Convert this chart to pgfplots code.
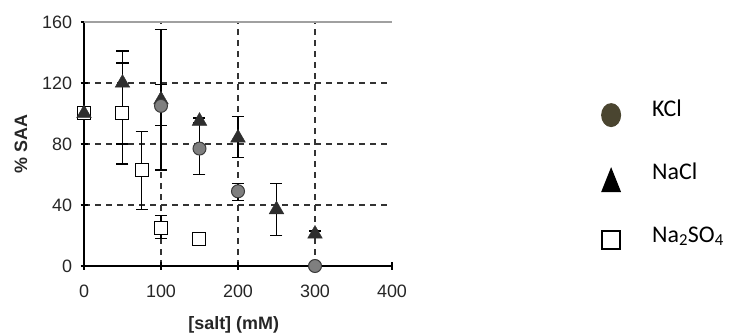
\documentclass[border=0pt]{standalone}
\usepackage{pgfplots}
\pgfplotsset{compat=1.18}
\usepackage{fontspec}
\setmainfont{Liberation Sans}
\newfontfamily\carlito{Carlito}
\definecolor{gridc}{HTML}{333333}
\definecolor{kclfill}{HTML}{7F7F7F}
\definecolor{kcledge}{HTML}{3A3A3A}
\definecolor{naclfill}{HTML}{2E2E2E}
\definecolor{legkcl}{HTML}{4A4530}
\definecolor{topline}{HTML}{A0A0A0}
\begin{document}
\begin{tikzpicture}
\path[use as bounding box] (0,0) rectangle (731bp,336bp);
\begin{axis}[
  at={(84bp,70bp)}, anchor=south west,
  scale only axis, width=308bp, height=244bp,
  xmin=0, xmax=400, ymin=0, ymax=160,
  axis lines*=left,
  axis line style={black, line width=1.3bp},
  xtick={100,200,300}, extra x ticks={0,400},
  ytick={40,80,120}, extra y ticks={0,160},
  extra x tick style={grid=none}, extra y tick style={grid=none},
  grid=major,
  major grid style={gridc, line width=1.3bp, dash pattern=on 6bp off 5bp},
  tick align=center, major tick length=7bp,
  tick style={black, line width=1.2bp},
  /pgf/number format/assume math mode=true,
  ticklabel style={font=\fontsize{18}{20}\selectfont, text=black!85},
  xticklabel style={yshift=-12bp},
  yticklabel style={xshift=-5bp},
  xlabel={\bfseries [salt] (mM)},
  ylabel={\bfseries \% SAA},
  label style={font=\fontsize{18}{20}\selectfont, text=black!85},
  xlabel style={at={(0.486,0)}, anchor=center, yshift=-59bp},
  ylabel style={at={(0,0.5)}, anchor=center, xshift=0bp, yshift=63bp},
  error bars/error bar style={black, line width=1.4bp},
  error bars/error mark options={rotate=90, mark size=6bp, black, line width=1.4bp},
  clip=false,
  legend style={at={(1.679,0.768)}, anchor=north west, draw=none, fill=none,
    inner sep=0pt, outer sep=0pt,
    font=\fontsize{24}{26}\selectfont\carlito, row sep=0pt, column sep=0pt,
    nodes={text height=16bp, text depth=4bp, inner sep=0pt, minimum height=63bp}},
  legend cell align=left,
]
\draw[topline, line width=1.2bp] (axis cs:0,160) -- (axis cs:400,160);
% Na2SO4
\addplot[forget plot, only marks, mark=square*, mark size=6.5bp, mark options={fill=white, draw=black, line width=1bp},
  error bars/.cd, y dir=both, y explicit] coordinates {
  (0,100)
  (50,100) +- (0,33)
  (75,63) += (0,25) -= (0,26)
  (100,25) += (0,8) -= (0,7)
  (150,18)
};
% NaCl
\addplot[forget plot, only marks, mark=triangle*, mark size=8.5bp, mark options={fill=naclfill, draw=naclfill},
  error bars/.cd, y dir=both, y explicit] coordinates {
  (0,100)
  (50,120) += (0,21) -= (0,40)
  (100,109) +- (0,46)
  (150,95) +- (0,2)
  (200,84) += (0,14) -= (0,13)
  (250,37) += (0,17) -= (0,17)
  (300,21) +- (0,2)
};
% KCl
\addplot[forget plot, only marks, mark=*, mark size=6.5bp, mark options={fill=kclfill, draw=kcledge, line width=1bp},
  error bars/.cd, y dir=both, y explicit] coordinates {
  (100,105) += (0,14) -= (0,13)
  (150,77) +- (0,17)
  (200,49) += (0,5) -= (0,6)
  (300,0)
};
\addlegendimage{legend image code/.code={\path[draw=none, fill=none] (0,0) -- (51bp,0); \fill[legkcl, draw=none] (10bp,-5bp) ellipse [x radius=10bp, y radius=12bp];}}
\addlegendentry{KCl}
\addlegendimage{legend image code/.code={\path[draw=none, fill=none] (0,0) -- (51bp,0); \fill[black, draw=none] (0bp,-19bp) -- ++(20bp,0) -- ++(-10bp,25bp) -- cycle;}}
\addlegendentry{NaCl}
\addlegendimage{legend image code/.code={\path[draw=none, fill=none] (0,0) -- (51bp,0); \draw[black, fill=none, line width=1.3bp] (1bp,-13bp) rectangle ++(18bp,18bp);}}
\addlegendentry{Na\textsubscript{2}SO\textsubscript{4}}
\end{axis}
\end{tikzpicture}
\end{document}
